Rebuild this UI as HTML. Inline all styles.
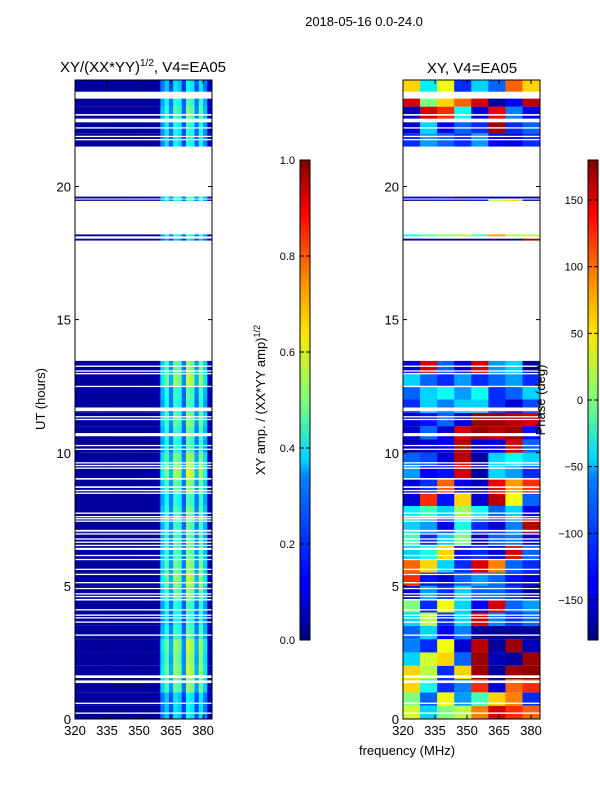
<!DOCTYPE html>
<html><head><meta charset="utf-8"><style>
body{margin:0;background:#fff;}
svg text{font-family:"Liberation Sans","DejaVu Sans",sans-serif;fill:#000;}
</style></head><body>
<svg id="fig" width="600" height="800" xmlns="http://www.w3.org/2000/svg">
<rect width="600" height="800" fill="#fff"/>
<text x="364" y="26" font-size="13" text-anchor="middle">2018-05-16 0.0-24.0</text>
<text x="143" y="72" font-size="15" text-anchor="middle">XY/(XX*YY)<tspan font-size="10" dy="-6">1/2</tspan><tspan dy="6">, V4=EA05</tspan></text>
<text x="472" y="73" font-size="15" text-anchor="middle">XY, V4=EA05</text>
<text x="407" y="755" font-size="13" text-anchor="middle">frequency (MHz)</text>
<text x="0" y="0" font-size="13" text-anchor="middle" transform="translate(45,399) rotate(-90)">UT (hours)</text>
<text x="0" y="0" font-size="13" text-anchor="middle" transform="translate(265,400) rotate(-90)">XY amp. / (XX*YY amp)<tspan font-size="9" dy="-5">1/2</tspan></text>
<defs>
<linearGradient id="jet" x1="0" y1="1" x2="0" y2="0">
<stop offset="0" stop-color="#00007f"/><stop offset="0.11" stop-color="#0000ff"/><stop offset="0.125" stop-color="#0000ff"/>
<stop offset="0.34" stop-color="#0080ff"/><stop offset="0.375" stop-color="#00d4ff"/><stop offset="0.5" stop-color="#7dff7a"/>
<stop offset="0.64" stop-color="#ffe600"/><stop offset="0.75" stop-color="#ff8c00"/><stop offset="0.89" stop-color="#ff0000"/><stop offset="1" stop-color="#7f0000"/>
</linearGradient>
</defs>
<g id="left"></g>
<g id="right"></g>
<g id="cb1"></g>
<g id="cb2"></g>
<text x="0" y="0" font-size="13" text-anchor="middle" transform="translate(545,400) rotate(-90)">Phase (deg)</text>
</svg>
<script>
// ---- data ----
const freqMin = 320, freqMax = 384.2, hourMin = 0, hourMax = 24;
const xTicks = [320, 335, 350, 365, 380];
const yTicks = [0, 5, 10, 15, 20];
const ampChanStart = [320,322,324,326,328,330,332,334,336,338,340,342,344,346,348,350,352,354,356,358,360,362,364,366,368,370,372,374,376,378,380,382];
const ampProfile = [0.03,0.03,0.03,0.03,0.03,0.03,0.03,0.03,0.03,0.03,0.03,0.03,0.03,0.03,0.03,0.03,0.03,0.03,0.03,0.04,0.3,0.4,0.25,0.44,0.4,0.22,0.48,0.44,0.25,0.44,0.3,0.06];
const rowStart = [0,0.5,1,1.5,2,2.5,3,3.5,4,4.5,5,5.5,6,6.5,7,7.5,8,8.5,9,9.5,10,10.5,11,11.5,12,12.5,13,21.5,22,22.5,23,23.56,19.46,19.55,17.97,18.13];
const rowEnd =   [0.5,1,1.5,2,2.5,3,3.5,4,4.5,5,5.5,6,6.5,7,7.5,8,8.5,9,9.5,10,10.5,11,11.5,12,12.5,13,13.45,22,22.5,23,23.3,24,19.51,19.62,18.04,18.2];
const ampRowFactor = [0.8,0.8,1.1,1.2,1.15,1.2,1.0,0.9,0.95,1.1,1.2,1.1,1.05,1.0,1.0,1.05,0.95,1.1,1.25,1.15,0.95,1.0,1.1,0.95,1.0,1.2,1.1,0.85,0.9,1.05,0.95,0.8,0.9,1.0,0.7,0.9];
const phaseChanStart = [320,328,336,344,352,360,368,376];
const phaseVals = [
[30,-60,0,20,90,150,120,100],[0,-100,40,-80,-20,60,90,-120],[60,-40,-120,-90,120,-150,100,120],[60,20,-120,60,170,-170,170,175],
[-60,30,60,-100,170,-160,-170,170],[-90,-120,40,-150,160,-170,170,-160],[-100,-60,-140,-90,-170,-170,-170,-170],[-60,20,-120,-60,150,-90,-120,-100],
[0,-120,40,-60,-140,150,-100,-80],[-150,-80,-120,-60,-100,-100,-120,-170],[120,-130,-150,-100,-80,-100,-130,-150],[100,60,-60,-120,150,90,-100,-120],
[-60,-40,60,-130,-120,-150,150,-100],[-20,-120,-60,0,-160,-100,-90,-150],[-60,-80,-140,-40,-120,-150,-90,160],[-50,-20,-60,10,-40,-100,-60,-140],
[-150,120,-130,60,-150,160,40,-100],[-150,-120,100,-140,-160,140,80,120],[-80,-140,-130,150,-170,-60,-80,-120],[-100,-110,-150,160,-170,-60,-40,-60],
[-160,-150,-140,160,-150,-140,150,-100],[-150,-100,-150,150,170,160,170,-130],[-150,-130,-100,-150,170,170,160,150],[-120,-60,-90,-60,-60,-120,-150,-110],
[-100,-60,-40,-80,-40,-120,-100,-60],[-60,-100,-120,-80,-120,-100,-80,-120],[-150,150,-100,-150,150,-80,-60,-170],
[-120,-80,-100,-120,-80,-140,-150,-120],[-150,-60,-140,-100,-120,170,-120,-100],[-160,150,120,-40,-150,140,-90,-140],[150,0,60,100,150,-170,-140,160],[60,-50,40,-120,-60,-100,100,60],
[-170,-170,-160,-170,-150,20,60,-170],[-150,-150,-140,-170,-160,-170,-160,-170],[-170,-170,-170,-170,-170,-170,-170,170],[-40,-10,10,20,-20,80,20,20]
];
const gapCenter = [13.25,13.07,12.97,12.49,11.63,11.35,11.25,10.68,10.27,10.13,9.62,9.52,9.42,9.02,8.71,8.58,8.48,7.73,7.6,7.52,7.43,7.07,6.95,6.76,6.64,6.52,6.39,6.14,5.99,5.62,5.43,5.12,4.9,4.7,4.6,4.48,4.1,3.9,3.8,3.64,3.15,1.59,1.4,0.59,0.22,22.69,22.48,22.2,21.88,21.76];
const gapWidth  = [0.05,0.05,0.05,0.05,0.14,0.05,0.05,0.12,0.05,0.05,0.05,0.05,0.05,0.06,0.06,0.05,0.05,0.05,0.05,0.05,0.05,0.07,0.05,0.05,0.05,0.05,0.08,0.05,0.05,0.05,0.05,0.05,0.05,0.05,0.05,0.06,0.05,0.05,0.05,0.05,0.05,0.1,0.1,0.05,0.05,0.06,0.14,0.05,0.05,0.05];
const ampCbTicks = [0.0,0.2,0.4,0.6,0.8,1.0];
const phaseCbTicks = [-150,-100,-50,0,50,100,150];

// ---- helpers ----
const NS = "http://www.w3.org/2000/svg";
function jet(t){t=Math.max(0,Math.min(1,t));const c=v=>Math.round(255*Math.max(0,Math.min(1,v)));
 return `rgb(${c(1.5-Math.abs(4*t-3))},${c(1.5-Math.abs(4*t-2))},${c(1.5-Math.abs(4*t-1))})`;}
function mk(tag,attrs,parent){const e=document.createElementNS(NS,tag);for(const k in attrs)e.setAttribute(k,attrs[k]);parent.appendChild(e);return e;}
function panel(gid,x0,x1,isPhase){
 const g=document.getElementById(gid);const y0=80,y1=719;
 const X=f=>x0+(f-freqMin)/(freqMax-freqMin)*(x1-x0);
 const Y=h=>y1-(h-hourMin)/(hourMax-hourMin)*(y1-y0);
 const starts=isPhase?phaseChanStart:ampChanStart;
 for(let r=0;r<rowStart.length;r++){
  for(let c=0;c<starts.length;c++){
   const f0=starts[c],f1=c+1<starts.length?starts[c+1]:freqMax;
   const t=isPhase?(phaseVals[r][c]+180)/360:ampProfile[c]*(c>=20&&c<31?ampRowFactor[r]:1);
   const e=mk('rect',{x:X(f0),y:Y(rowEnd[r]),width:X(f1)-X(f0)+0.3,height:Y(rowStart[r])-Y(rowEnd[r]),fill:jet(t)},g);
   
   
  }
 }
 for(let i=0;i<gapCenter.length;i++){
  const e=mk('rect',{x:x0,y:Y(gapCenter[i]+gapWidth[i]/2),width:x1-x0,height:Y(gapCenter[i]-gapWidth[i]/2)-Y(gapCenter[i]+gapWidth[i]/2),fill:'#fff'},g);
  
  
 }
 const fr=mk('rect',{x:x0,y:y0,width:x1-x0,height:y1-y0,fill:'none',stroke:'#000','stroke-width':1},g);
 
 
 xTicks.forEach(v=>{const x=X(v);
  mk('line',{x1:x,x2:x,y1:y1,y2:y1-4,stroke:'#000'},g);mk('line',{x1:x,x2:x,y1:y0,y2:y0+4,stroke:'#000'},g);
  const t=mk('text',{x:x,y:y1+16,'font-size':13,'text-anchor':'middle'},g);t.textContent=v;
  
  });
 yTicks.forEach(v=>{const y=Y(v);
  mk('line',{x1:x0,x2:x0+4,y1:y,y2:y,stroke:'#000'},g);mk('line',{x1:x1,x2:x1-4,y1:y,y2:y,stroke:'#000'},g);
  const t=mk('text',{x:x0-4,y:y+5,'font-size':13,'text-anchor':'end'},g);t.textContent=v;
  
  });
}
function colorbar(gid,x0,ticks,vmin,vmax,fmt){
 const g=document.getElementById(gid);const y0=160,y1=640,w=10;
 const r=mk('rect',{x:x0,y:y0,width:w,height:y1-y0,fill:'url(#jet)',stroke:'#000','stroke-width':1},g);
 
 
 ticks.forEach(v=>{const y=y1-(v-vmin)/(vmax-vmin)*(y1-y0);
  mk('line',{x1:x0,x2:x0+4,y1:y,y2:y,stroke:'#000'},g);mk('line',{x1:x0+w,x2:x0+w-4,y1:y,y2:y,stroke:'#000'},g);
  const t=mk('text',{x:x0-5,y:y+4,'font-size':11,'text-anchor':'end'},g);t.textContent=fmt(v);
  
  });
}
panel('left',75,212,false);
panel('right',403,540,true);
colorbar('cb1',300,ampCbTicks,0,1,v=>v.toFixed(1));
colorbar('cb2',588,phaseCbTicks,-180,180,v=>v<0?'\u2212'+(-v):String(v));
</script>
</body></html>
